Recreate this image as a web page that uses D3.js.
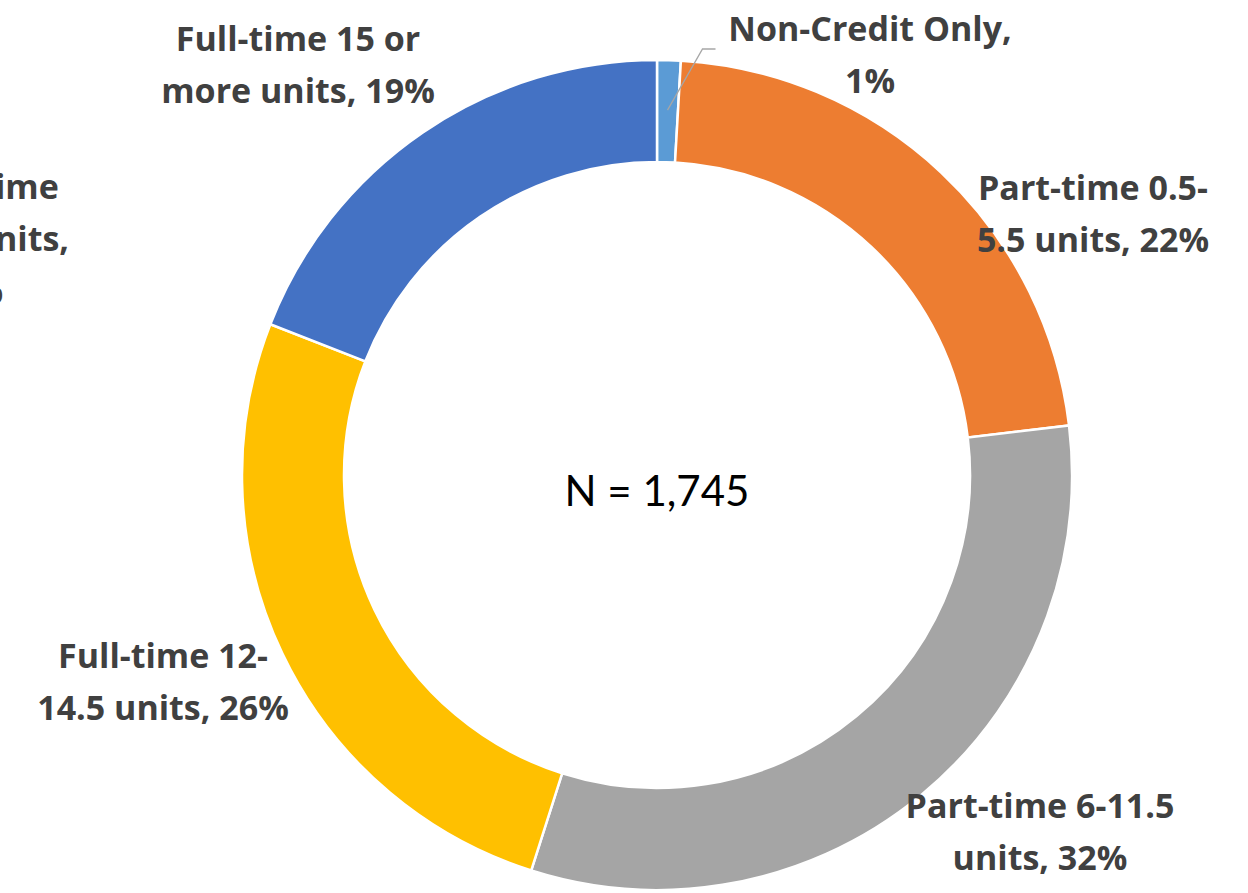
<!DOCTYPE html>
<html>
<head>
<meta charset="utf-8">
<script src="https://cdn.jsdelivr.net/npm/d3@7"></script>
<style>
  html, body { margin: 0; padding: 0; background: #fff; overflow: hidden; }
  svg { display: block; }
</style>
</head>
<body>
<div id="chart"></div>
<script>
// Enrollment load donut – N = 1,745

// Data (clockwise from 12 o'clock)
const categories = [
  'Non-Credit Only',
  'Part-time 0.5-5.5 units',
  'Part-time 6-11.5 units',
  'Full-time 12-14.5 units',
  'Part-time < 0.5 units',
  'Full-time 15 or more units'
];
const counts = [16, 387, 555, 454, 0, 333];
const totalLabel = 'N = 1,745';

// Styling / layout, kept apart from the data
const colors = ['#5B9BD5', '#ED7D31', '#A5A5A5', '#FFC000', '#70AD47', '#4472C4'];
const labelBreaks = [[16], [14], [16], [13], [9, 22], [15]];   // where each label wraps
const labelCenters = [[870, 54], [1093, 213], [1040, 831], [163, 681], [-22, 238], [298, 64]];

const width = 1248, height = 893;
const cx = 657, cy = 475;
const outerR = 415, innerR = 313;
const lineH = 52;

const svg = d3.select('#chart')
  .append('svg')
  .attr('width', width)
  .attr('height', height);

const g = svg.append('g').attr('transform', `translate(${cx},${cy})`);

const total = d3.sum(counts);
const pie = d3.pie().sort(null).value(d => d.value);
const arcs = pie(categories.map((c, i) => ({ name: c, value: counts[i], color: colors[i] })));

const arc = d3.arc().innerRadius(innerR).outerRadius(outerR);

g.selectAll('path')
  .data(arcs.filter(d => d.value > 0))
  .join('path')
  .attr('d', arc)
  .attr('fill', d => d.data.color)
  .attr('stroke', '#fff')
  .attr('stroke-width', 2.5)
  .attr('stroke-linejoin', 'miter');

// Leader line for the thin Non-Credit slice
const nc = arcs[0];
const ncMid = (nc.startAngle + nc.endAngle) / 2;
const leaderStart = [Math.sin(ncMid) * (outerR - 50), -Math.cos(ncMid) * (outerR - 50)];
const [lx, ly] = labelCenters[0];
g.append('polyline')
  .attr('points', [
    leaderStart,
    [leaderStart[0] + 35, ly - cy - 5],
    [leaderStart[0] + 48, ly - cy - 5]
  ].map(p => p.join(',')).join(' '))
  .attr('fill', 'none')
  .attr('stroke', '#A6A6A6')
  .attr('stroke-width', 1.3);

// Data labels
const pctFmt = v => Math.round(v / total * 100) + '%';
arcs.forEach((d, i) => {
  const full = `${d.data.name}, ${pctFmt(d.value)}`;
  const cuts = [0, ...labelBreaks[i], full.length];
  const lines = d3.pairs(cuts).map(([a, b]) => full.slice(a, b).trim());
  const [x, y] = labelCenters[i];
  const t = svg.append('text')
    .attr('x', x)
    .attr('y', y - (lines.length - 1) * lineH / 2)
    .attr('text-anchor', 'middle')
    .attr('dominant-baseline', 'central')
    .attr('fill', '#404040')
    .attr('font-family', '"Open Sans", Lato, sans-serif')
    .attr('font-weight', 700)
    .attr('font-size', 34);
  lines.forEach((ln, j) => {
    t.append('tspan')
      .attr('x', x)
      .attr('dy', j === 0 ? 0 : lineH)
      .text(ln);
  });
});

// Center total
g.append('text')
  .attr('text-anchor', 'middle')
  .attr('dominant-baseline', 'central')
  .attr('y', 15)
  .attr('fill', '#000')
  .attr('font-family', 'Lato, "Open Sans", sans-serif')
  .attr('font-size', 42)
  .text(totalLabel);
</script>
</body>
</html>
